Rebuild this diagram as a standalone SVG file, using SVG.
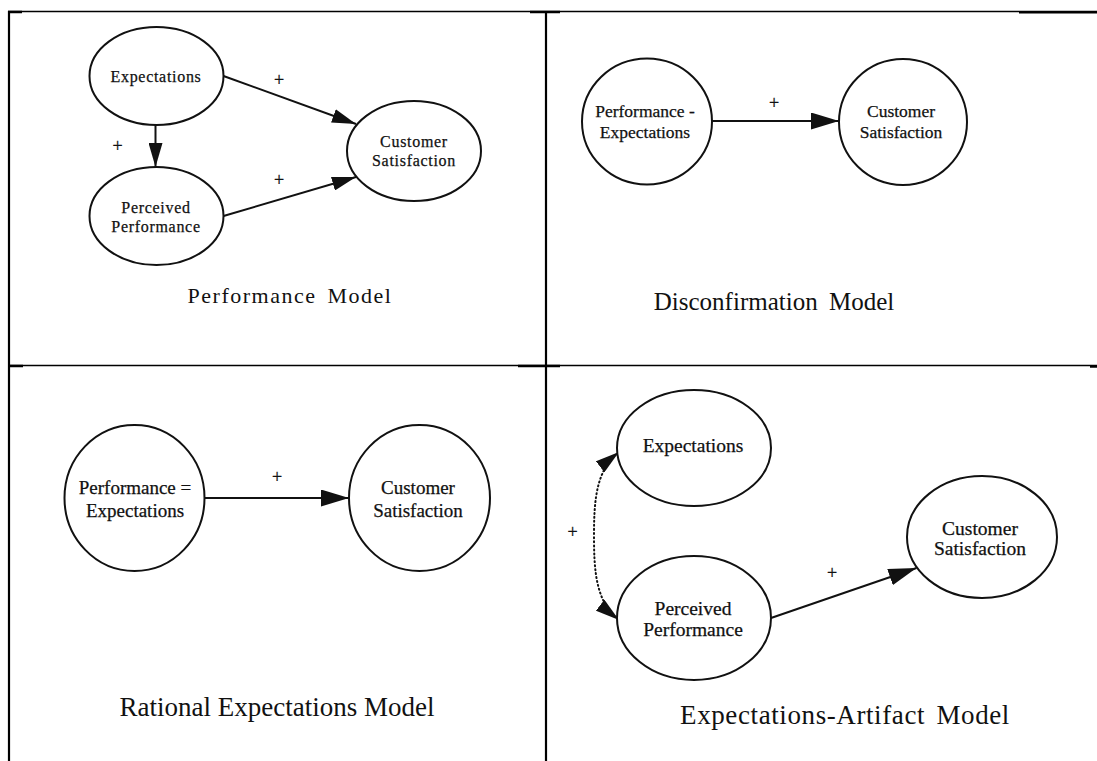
<svg xmlns="http://www.w3.org/2000/svg" width="1097" height="761" viewBox="0 0 1097 761">
  <defs>
    <style>
      .node { fill: #ffffff; stroke: #111111; stroke-width: 2; }
      .lbl { font-family: "Liberation Serif", "Times New Roman", serif; fill: #111111; text-anchor: middle; stroke: #111111; stroke-width: 0.25; }
      .n1 { font-size: 16px; letter-spacing: 0.7px; }
      .n2 { font-size: 17.5px; }
      .n3 { font-size: 19px; }
      .n4 { font-size: 19.5px; }
      .edge { fill: none; stroke: #111111; stroke-width: 2; }
      .dotted { fill: none; stroke: #111111; stroke-width: 2; stroke-dasharray: 1 3; stroke-linecap: round; }
      .sign { font-family: "Liberation Serif", "Times New Roman", serif; font-size: 18px; fill: #111111; text-anchor: middle; stroke: #111111; stroke-width: 0.3; }
      .caption { font-family: "Liberation Serif", "Times New Roman", serif; fill: #111111; text-anchor: middle; }
      .rule { stroke: #000000; fill: none; }
    </style>
    <marker id="arrow-sm" markerUnits="userSpaceOnUse" viewBox="0 0 24 14" refX="24" refY="7" markerWidth="24" markerHeight="14" orient="auto-start-reverse">
      <path d="M0,0 L24,7 L0,14 Z" fill="#111111"/>
    </marker>
    <marker id="arrow-lg" markerUnits="userSpaceOnUse" viewBox="0 0 28 17" refX="28" refY="8.5" markerWidth="28" markerHeight="17" orient="auto-start-reverse">
      <path d="M0,0 L28,8.5 L0,17 Z" fill="#111111"/>
    </marker>
  </defs>

  <rect width="1097" height="761" fill="#ffffff"/>

  <!-- table rules -->
  <g id="table">
    <line class="rule" x1="8" y1="11.5" x2="1097" y2="11.5" stroke-width="1.3"/>
    <line class="rule" x1="8" y1="12" x2="22" y2="12" stroke-width="2.5"/>
    <line class="rule" x1="530" y1="12" x2="560" y2="12" stroke-width="2.5"/>
    <line class="rule" x1="1019" y1="12.3" x2="1097" y2="12.3" stroke-width="2.5"/>
    <line class="rule" x1="9" y1="11" x2="9" y2="761" stroke-width="2.2"/>
    <line class="rule" x1="546" y1="11" x2="546" y2="761" stroke-width="2.2"/>
    <line class="rule" x1="8" y1="365.5" x2="1097" y2="365.5" stroke-width="1.3"/>
    <line class="rule" x1="8" y1="366" x2="23" y2="366" stroke-width="2.5"/>
    <line class="rule" x1="518" y1="366" x2="560" y2="366" stroke-width="2.5"/>
    <line class="rule" x1="1090" y1="366.5" x2="1097" y2="366.5" stroke-width="2.5"/>
  </g>

  <!-- connectors -->
  <g id="connectors">
    <!-- performance model -->
    <line class="edge" x1="223.5" y1="76" x2="356" y2="124" marker-end="url(#arrow-sm)"/>
    <line class="edge" x1="223.5" y1="216" x2="356" y2="177" marker-end="url(#arrow-sm)"/>
    <line class="edge" x1="155.5" y1="125" x2="155.5" y2="167" marker-end="url(#arrow-sm)"/>
    <!-- disconfirmation model -->
    <line class="edge" x1="712" y1="121" x2="839" y2="121" marker-end="url(#arrow-lg)"/>
    <!-- rational expectations model -->
    <line class="edge" x1="204.5" y1="498" x2="349" y2="498" marker-end="url(#arrow-lg)"/>
    <!-- expectations-artifact model -->
    <line class="edge" x1="771" y1="618" x2="916.5" y2="568" marker-end="url(#arrow-lg)"/>
    <path class="dotted" d="M619,452 C596,470 594,500 594,536 C594,572 596,602 619,620" marker-start="url(#arrow-sm)" marker-end="url(#arrow-sm)"/>

    <text class="sign" x="279" y="86">+</text>
    <text class="sign" x="117.5" y="152">+</text>
    <text class="sign" x="279" y="186">+</text>
    <text class="sign" x="774" y="109">+</text>
    <text class="sign" x="277" y="483">+</text>
    <text class="sign" x="832" y="579">+</text>
    <text class="sign" x="572.5" y="538">+</text>
  </g>

  <!-- Performance Model -->
  <g id="pm-expectations">
    <ellipse class="node" cx="156.5" cy="76" rx="67" ry="49"/>
    <text class="lbl n1" x="156" y="81.5">Expectations</text>
  </g>
  <g id="pm-perceived">
    <ellipse class="node" cx="156.5" cy="216" rx="67" ry="49"/>
    <text class="lbl n1" x="156" y="213">Perceived</text>
    <text class="lbl n1" x="156" y="231.5">Performance</text>
  </g>
  <g id="pm-satisfaction">
    <ellipse class="node" cx="414" cy="151" rx="67" ry="50"/>
    <text class="lbl n1" x="414" y="147">Customer</text>
    <text class="lbl n1" x="414" y="165.5">Satisfaction</text>
  </g>
  <text id="pm-caption" class="caption" x="290" y="302.5" font-size="22" letter-spacing="1.5" word-spacing="4">Performance Model</text>

  <!-- Disconfirmation Model -->
  <g id="dm-gap">
    <ellipse class="node" cx="647" cy="121.5" rx="65" ry="63"/>
    <text class="lbl n2" x="645" y="117">Performance -</text>
    <text class="lbl n2" x="645" y="137.5">Expectations</text>
  </g>
  <g id="dm-satisfaction">
    <ellipse class="node" cx="903" cy="122" rx="64" ry="63"/>
    <text class="lbl n2" x="901" y="117">Customer</text>
    <text class="lbl n2" x="901" y="137.5">Satisfaction</text>
  </g>
  <text id="dm-caption" class="caption" x="774" y="310" font-size="25" word-spacing="5">Disconfirmation Model</text>

  <!-- Rational Expectations Model -->
  <g id="re-equal">
    <ellipse class="node" cx="134.5" cy="498" rx="70" ry="73"/>
    <text class="lbl n3" x="135" y="493.5">Performance =</text>
    <text class="lbl n3" x="135" y="516.5">Expectations</text>
  </g>
  <g id="re-satisfaction">
    <ellipse class="node" cx="419.5" cy="498" rx="70.5" ry="73"/>
    <text class="lbl n3" x="418" y="493.5">Customer</text>
    <text class="lbl n3" x="418" y="516.5">Satisfaction</text>
  </g>
  <text id="re-caption" class="caption" x="277" y="716" font-size="27">Rational Expectations Model</text>

  <!-- Expectations-Artifact Model -->
  <g id="ea-expectations">
    <ellipse class="node" cx="694" cy="448" rx="77" ry="58"/>
    <text class="lbl n4" x="693" y="451.5">Expectations</text>
  </g>
  <g id="ea-perceived">
    <ellipse class="node" cx="694" cy="618" rx="77" ry="62"/>
    <text class="lbl n4" x="693" y="614.5">Perceived</text>
    <text class="lbl n4" x="693" y="635.5">Performance</text>
  </g>
  <g id="ea-satisfaction">
    <ellipse class="node" cx="982" cy="537" rx="75" ry="61"/>
    <text class="lbl n4" x="980" y="534.5">Customer</text>
    <text class="lbl n4" x="980" y="554.5">Satisfaction</text>
  </g>
  <text id="ea-caption" class="caption" x="845" y="724" font-size="27" letter-spacing="0.6" word-spacing="4">Expectations-Artifact Model</text>
</svg>
